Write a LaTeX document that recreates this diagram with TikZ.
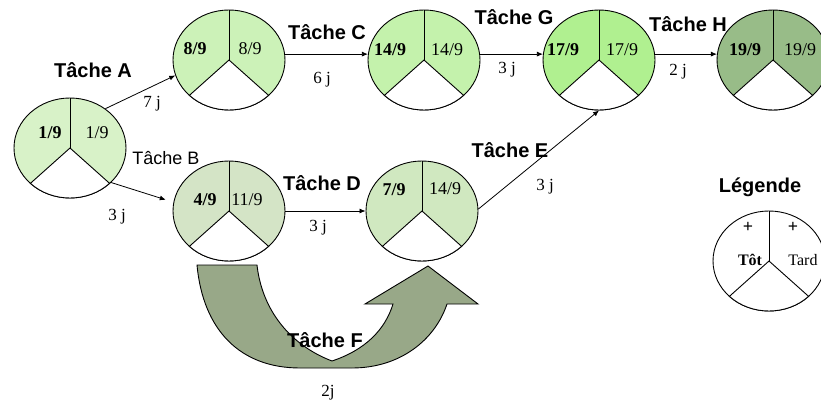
\documentclass[tikz,border=0pt]{standalone}
\usepackage{fontspec}
\setmainfont{Liberation Serif}
\setsansfont{Liberation Sans}
\usetikzlibrary{shapes.geometric,arrows.meta}
\definecolor{cA}{HTML}{D8F2C8}
\definecolor{cB}{HTML}{CCF2B8}
\definecolor{cC}{HTML}{C4F2AC}
\definecolor{cD}{HTML}{B0F090}
\definecolor{cE}{HTML}{98BC88}
\definecolor{cF}{HTML}{D4E4C6}
\definecolor{cG}{HTML}{D0E8C0}
\definecolor{cArrow}{HTML}{98A888}
\tikzset{
  evt/.style={ellipse, draw, line width=0.9pt, minimum width=112pt, minimum height=100pt, inner sep=0pt},
  arr/.style={line width=0.8pt, -{Latex[length=6pt,width=5pt]}},
  task/.style={font=\sffamily\bfseries\fontsize{20}{22}\selectfont, inner sep=0pt},
  taskr/.style={font=\sffamily\fontsize{18}{20}\selectfont, inner sep=0pt},
  dur/.style={font=\fontsize{17}{19}\selectfont, inner sep=0pt},
  num/.style={font=\fontsize{18}{20}\selectfont, inner sep=0pt},
  numb/.style={font=\bfseries\fontsize{18}{20}\selectfont, inner sep=0pt},
}
\newcommand{\evnode}[3]{%
  \node[evt, fill=#3] (#1) at (#2) {};
  \filldraw[fill=white, draw=black, line width=0.9pt] (#1.center) -- ++(225:56 and 50)
    arc[start angle=225, end angle=315, x radius=56, y radius=50] -- cycle;
  \draw[line width=0.9pt] (#1.center) -- (#1.north);
}
\begin{document}
\begin{tikzpicture}[x=1pt,y=1pt]
\clip (0,0) rectangle (821,-406);
\fill[white] (0,0) rectangle (821,-406);
% events
\evnode{e1}{70,-148}{cA}
\evnode{e8}{229,-60}{cB}
\evnode{e14}{424,-60}{cC}
\evnode{e17}{599,-60}{cD}
\evnode{e19}{773,-60}{cE}
\evnode{e4}{229,-211}{cF}
\evnode{e7}{422,-211}{cG}
\evnode{leg}{769,-261}{white}
% event texts
\node[numb] (t1a) at (50,-133) {1/9};
\node[num]  (t1b) at (97,-133) {1/9};
\node[numb] (t8a) at (195,-49) {8/9};
\node[num]  (t8b) at (250,-49) {8/9};
\node[numb] (t14a) at (390,-50) {14/9};
\node[num]  (t14b) at (447,-50) {14/9};
\node[numb] (t17a) at (563,-50) {17/9};
\node[num]  (t17b) at (622,-50) {17/9};
\node[numb] (t19a) at (745,-50) {19/9};
\node[num]  (t19b) at (800,-50) {19/9};
\node[numb] (t4a) at (205,-200) {4/9};
\node[num]  (t4b) at (247,-200) {11/9};
\node[numb] (t7a) at (394,-190) {7/9};
\node[num]  (t7b) at (445,-189) {14/9};
% legend
\node[task] (legt) at (760,-187) {Légende};
\node[numb] (lp1) at (748,-227) {+};
\node[numb] (lp2) at (793,-227) {+};
\node[font=\bfseries\fontsize{16}{18}\selectfont, inner sep=0pt] (ltot) at (750,-260) {Tôt};
\node[font=\fontsize{16}{18}\selectfont, inner sep=0pt] (ltard) at (803,-260) {Tard};
% connectors
\draw[arr] (e1.48) -- (e8.196);
\draw[arr, shorten >=8pt] (e1.-40) -- (e4.171);
\draw[arr] (e8.6) -- (e14.174);
\draw[arr] (e14.6) -- (e17.174);
\draw[arr] (e17.6) -- (e19.174);
\draw[arr] (e4.0) -- (e7.180);
\draw[arr] (e7.2) -- (e17.south);
% big arrow (task F)
\filldraw[fill=cArrow, draw=black, line width=0.9pt]
  (197,-265) -- (257,-265) .. controls (262,-310) and (290,-345) .. (332,-361)
  .. controls (365,-350) and (385,-330) .. (393,-304) -- (365,-304) -- (428,-266)
  -- (478,-304) -- (447,-304) .. controls (435,-340) and (400,-368) .. (352,-368)
  -- (300,-368) .. controls (240,-368) and (203,-330) .. (197,-265) -- cycle;
% labels
\node[task] (lA) at (93,-70) {Tâche A};
\node[dur]  (dA) at (152,-104) {7 j};
\node[taskr] (lB) at (166,-158) {Tâche B};
\node[dur]  (dB) at (117,-217) {3 j};
\node[task] (lC) at (327,-32) {Tâche C};
\node[dur]  (dC) at (322,-80) {6 j};
\node[task] (lG) at (514,-17) {Tâche G};
\node[dur]  (dG) at (507,-70) {3 j};
\node[task] (lH) at (688,-24) {Tâche H};
\node[dur]  (dH) at (678,-72) {2 j};
\node[task] (lD) at (322,-183) {Tâche D};
\node[dur]  (dD) at (318,-228) {3 j};
\node[task] (lE) at (510,-150) {Tâche E};
\node[dur]  (dE) at (545,-187) {3 j};
\node[task] (lF) at (325,-340) {Tâche F};
\node[dur]  (dF) at (328,-393) {2j};
\end{tikzpicture}
\end{document}
